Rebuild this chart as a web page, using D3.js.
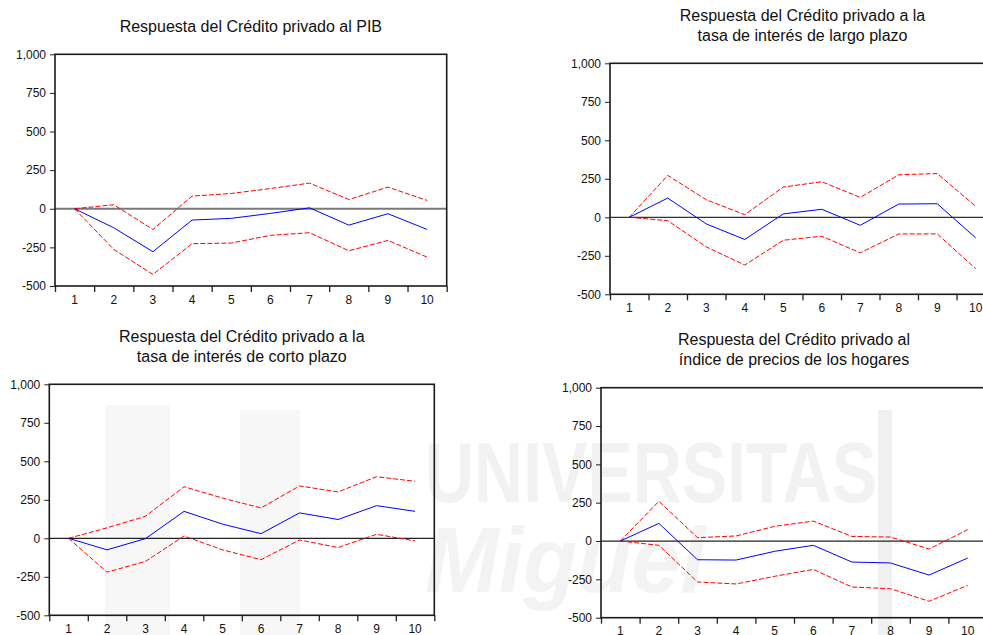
<!DOCTYPE html>
<html>
<head>
<meta charset="utf-8">
<script src="https://cdn.jsdelivr.net/npm/d3@7"></script>
<style>
  body { margin: 0; background: #fff; }
  text { font-family: "Liberation Sans", Arial, sans-serif; fill: #111; }
</style>
</head>
<body>
<svg id="chart" width="983" height="635"></svg>
<script>
// periods and axis ticks
var periods = [1, 2, 3, 4, 5, 6, 7, 8, 9, 10];
var yTicks = [-500, -250, 0, 250, 500, 750, 1000];

// response to PIB
var pibResp  = [0, -123, -278, -73, -62, -30, 6, -106, -32, -134];
var pibUpper = [0, 26, -134, 82, 99, 131, 166, 60, 140, 54];
var pibLower = [0, -263, -425, -226, -222, -172, -155, -272, -205, -313];

// response to long term interest rate
var largoResp  = [0, 125, -43, -144, 22, 52, -52, 86, 88, -134];
var largoUpper = [0, 272, 114, 17, 196, 231, 129, 276, 284, 71];
var largoLower = [0, -22, -192, -310, -149, -123, -231, -108, -108, -334];

// response to short term interest rate
var cortoResp  = [0, -75, -2, 175, 92, 30, 165, 122, 212, 175];
var cortoUpper = [0, 68, 143, 335, 261, 197, 340, 301, 400, 370];
var cortoLower = [0, -220, -150, 15, -75, -139, -11, -60, 26, -17];

// response to house price index
var ipvResp  = [0, 115, -122, -124, -67, -28, -137, -143, -222, -111];
var ipvUpper = [0, 259, 22, 33, 96, 130, 30, 26, -52, 74];
var ipvLower = [0, -28, -267, -280, -230, -185, -300, -311, -393, -289];

var svg = d3.select("#chart");
var fmt = d3.formatLocale({decimal: ".", thousands: ",", grouping: [3], currency: ["", ""], minus: "-"}).format(",");

// faint watermark in the background
var wm = svg.append("g").attr("class", "watermark");
wm.append("rect").attr("x", 105).attr("y", 405).attr("width", 65).attr("height", 230).attr("fill", "#f7f7f7");
wm.append("rect").attr("x", 240).attr("y", 410).attr("width", 60).attr("height", 225).attr("fill", "#f7f7f7");
wm.append("rect").attr("x", 878).attr("y", 410).attr("width", 14).attr("height", 225).attr("fill", "#f0f0f0");
wm.append("text")
    .attr("x", 425).attr("y", 502)
    .attr("textLength", 452).attr("lengthAdjust", "spacingAndGlyphs")
    .style("font-size", "86px").style("font-weight", "bold")
    .style("fill", "#f2f2f2")
    .text("UNIVERSITAS");
wm.append("text")
    .attr("x", 425).attr("y", 592)
    .attr("textLength", 280).attr("lengthAdjust", "spacingAndGlyphs")
    .style("font-size", "92px").style("font-style", "italic").style("font-weight", "bold")
    .style("fill", "#f3f3f3")
    .text("Miguel");

var panels = [
  {title: ["Respuesta del Crédito privado al PIB"], titleY: 32,
   left: 55, top: 54.3, width: 391.7, height: 231.7,
   resp: pibResp, upper: pibUpper, lower: pibLower, zeroColor: "#7a7a7a", zeroWidth: 2},
  {title: ["Respuesta del Crédito privado a la", "tasa de interés de largo plazo"], titleY: 21,
   left: 610, top: 63.3, width: 385, height: 231,
   resp: largoResp, upper: largoUpper, lower: largoLower, zeroColor: "#333", zeroWidth: 1.2},
  {title: ["Respuesta del Crédito privado a la", "tasa de interés de corto plazo"], titleY: 341.5,
   left: 49.3, top: 384.3, width: 385, height: 231,
   resp: cortoResp, upper: cortoUpper, lower: cortoLower, zeroColor: "#222", zeroWidth: 1.2},
  {title: ["Respuesta del Crédito privado al", "índice de precios de los hogares"], titleY: 345,
   left: 601, top: 387.7, width: 386, height: 230,
   resp: ipvResp, upper: ipvUpper, lower: ipvLower, zeroColor: "#222", zeroWidth: 1.2}
];

panels.forEach(function(p) {
  var g = svg.append("g");

  var x = d3.scaleBand().domain(periods).range([p.left, p.left + p.width]);
  var xEdge = d3.scaleLinear().domain([0, periods.length]).range([p.left, p.left + p.width]);
  var y = d3.scaleLinear().domain([-500, 1000]).range([p.top + p.height, p.top]);
  var cx = function(d, i) { return x(periods[i]) + x.bandwidth() / 2; };

  // title
  g.append("text")
      .attr("text-anchor", "middle")
      .style("font-size", "16px")
      .selectAll("tspan")
      .data(p.title)
      .join("tspan")
      .attr("x", p.left + p.width / 2)
      .attr("y", function(d, i) { return p.titleY + i * 20; })
      .text(function(d) { return d; });

  // y axis
  var ya = g.append("g")
      .attr("transform", "translate(" + p.left + ",0)")
      .call(d3.axisLeft(y).tickValues(yTicks).tickFormat(fmt).tickSize(5).tickPadding(4));
  ya.select(".domain").remove();
  ya.selectAll("line").attr("stroke", "#222");
  ya.selectAll("text").style("font-size", "12px").attr("fill", "#111");

  // x axis: tick marks at band edges, labels at band centres
  var xe = g.append("g")
      .attr("transform", "translate(0," + (p.top + p.height) + ")")
      .call(d3.axisBottom(xEdge).tickValues(d3.range(0, periods.length + 1)).tickFormat("").tickSize(6));
  xe.select(".domain").remove();
  xe.selectAll("line").attr("stroke", "#222").attr("stroke-width", 1.3);

  var xl = g.append("g")
      .attr("transform", "translate(0," + (p.top + p.height) + ")")
      .call(d3.axisBottom(x).tickSize(0).tickPadding(9));
  xl.select(".domain").remove();
  xl.selectAll("text").style("font-size", "12px").attr("fill", "#111");

  // zero line
  g.append("line")
      .attr("x1", p.left).attr("x2", p.left + p.width)
      .attr("y1", y(0)).attr("y2", y(0))
      .attr("stroke", p.zeroColor).attr("stroke-width", p.zeroWidth);

  var line = d3.line().x(cx).y(function(d) { return y(d); });

  [p.upper, p.lower].forEach(function(band) {
    g.append("path")
        .datum(band)
        .attr("d", line)
        .attr("fill", "none")
        .attr("stroke", "#ff0000")
        .attr("stroke-width", 1)
        .attr("stroke-dasharray", "5,2");
  });

  g.append("path")
      .datum(p.resp)
      .attr("d", line)
      .attr("fill", "none")
      .attr("stroke", "#0000ff")
      .attr("stroke-width", 1);

  // frame
  g.append("rect")
      .attr("x", p.left).attr("y", p.top)
      .attr("width", p.width).attr("height", p.height)
      .attr("fill", "none")
      .attr("stroke", "#1a1a1a")
      .attr("stroke-width", 1.6);
});
</script>
</body>
</html>
